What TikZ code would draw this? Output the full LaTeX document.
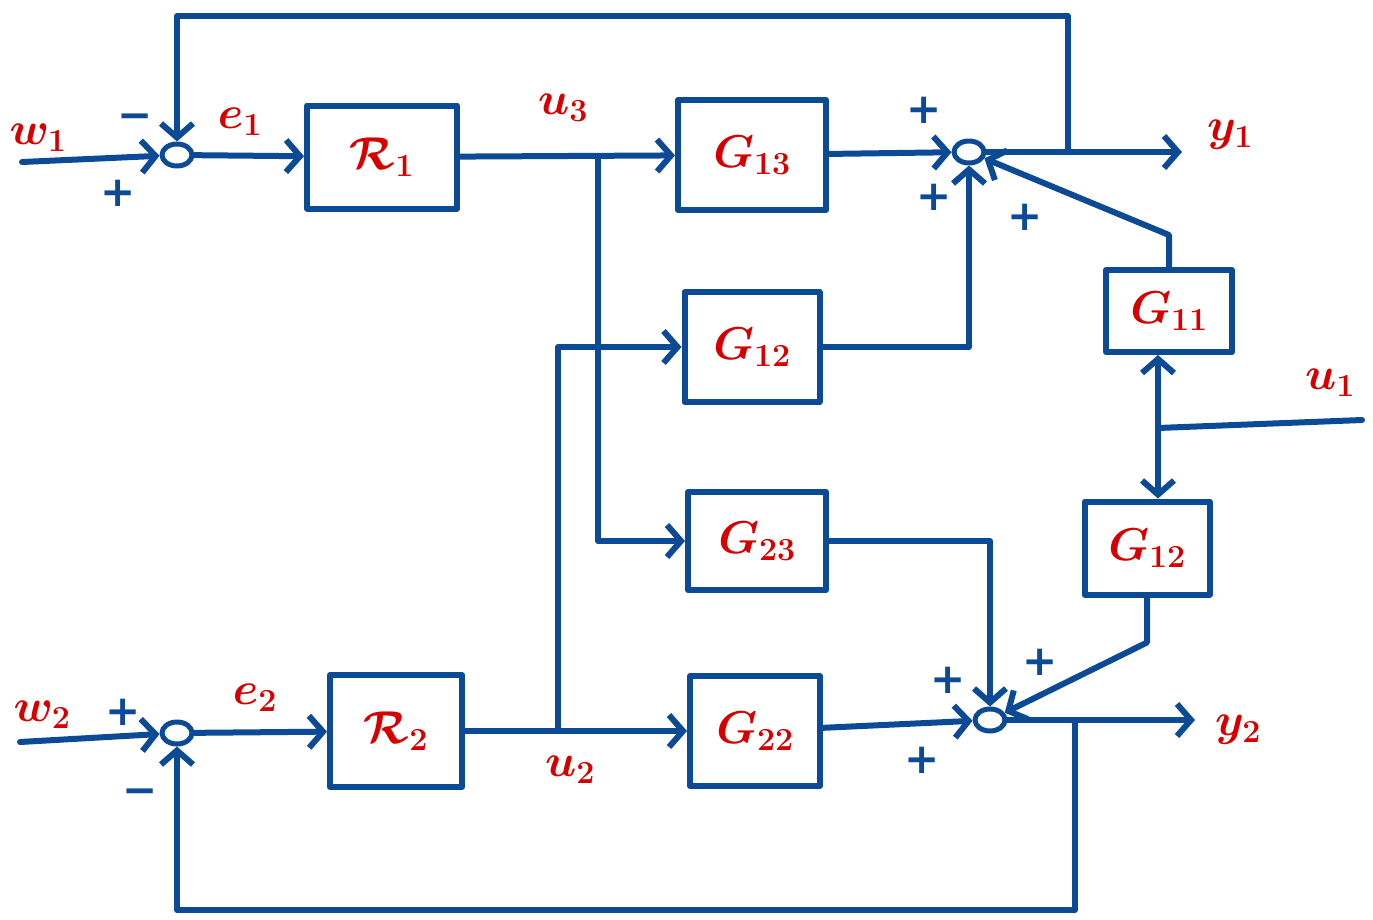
\RequirePackage{fix-cm}
\documentclass[tikz,border=0pt]{standalone}
\usepackage[no-math]{fontspec}
\newfontfamily\signfont{DejaVu Sans}
\usetikzlibrary{arrows.meta,shapes.geometric}
\definecolor{ink}{RGB}{12,74,150}
\definecolor{lbl}{RGB}{214,0,0}
\begin{document}
\begin{tikzpicture}[x=1pt,y=-1pt,line width=6pt,line cap=round,line join=round,draw=ink,
  blk/.style={draw,rectangle,minimum width=#1},
  sum/.style={draw,ellipse,line width=5pt,minimum width=30pt,minimum height=22pt,inner sep=0pt},
  arr/.style={-{Straight Barb[length=14pt,width=32pt,line width=6pt]}},
  lab/.style={text=lbl,font=\fontsize{46}{50}\selectfont\boldmath},
  sgn/.style={text=ink,font=\fontsize{42}{46}\signfont\bfseries,inner sep=0pt}]
\useasboundingbox (0,0) rectangle (1373,919);

% blocks
\node[blk=150pt,minimum height=103pt] (R1) at (382,157) {};
\node[blk=148pt,minimum height=110pt] (G13) at (752,155) {};
\node[blk=135pt,minimum height=110pt] (G12m) at (752,347) {};
\node[blk=138pt,minimum height=98pt] (G23) at (757,541) {};
\node[blk=132pt,minimum height=112pt] (R2) at (396,731) {};
\node[blk=130pt,minimum height=110pt] (G22) at (755,731) {};
\node[blk=126pt,minimum height=82pt] (G11) at (1169,311) {};
\node[blk=125pt,minimum height=93pt] (G12r) at (1147,548) {};

% block labels
\node[lab] at (R1) {$\mathcal{R}_1$};
\node[lab] at (G13) {$G_{13}$};
\node[lab] at (G12m) {$G_{12}$};
\node[lab] at (G23) {$G_{23}$};
\node[lab] at (R2) {$\mathcal{R}_2$};
\node[lab] at (G22) {$G_{22}$};
\node[lab] at (G11) {$G_{11}$};
\node[lab] at (G12r) {$G_{12}$};

% summing junctions
\node[sum] (S1) at (177,155) {};
\node[sum] (S2) at (177,733) {};
\node[sum] (S3) at (969,152) {};
\node[sum] (S4) at (990,720) {};

% free ends and branch points
\coordinate (w1in) at (22,162);
\coordinate (w2in) at (20,742);
\coordinate (y1out) at (1182,152);
\coordinate (y2out) at (1195,720);
\coordinate (u1in) at (1362,420);
\coordinate (u1j) at (1158,428);
\coordinate (b3) at (598,156);
\coordinate (b2) at (558,731);
\coordinate (fb1) at (1068,152);
\coordinate (fb2) at (1075,720);
\coordinate (top) at (0,16);
\coordinate (bot) at (0,910);

% upper loop
\draw[arr] (w1in) -- (S1);
\draw[arr] (S1) -- (R1);
\draw[arr] (R1) -- (G13);
\draw[arr] (b3) |- (G23.west);
\draw[arr] (G13) -- (S3);
\draw[arr] (S3) -- (y1out);
\draw[arr] (fb1) -- (fb1 |- top) -- (S1 |- top) -- (S1);
\draw[arr] (G12m.east) -| (S3.south);
\draw[arr] (G11.north) -- ++(0,-32) -- (S3);

% disturbance input
\draw (u1in) -- (u1j);
\draw[arr] (u1j) -- (u1j |- G11.south);
\draw[arr] (u1j) -- (u1j |- G12r.north);

% lower loop
\draw[arr] (w2in) -- (S2);
\draw[arr] (S2) -- (R2);
\draw[arr] (R2) -- (G22);
\draw[arr] (b2) |- (G12m.west);
\draw[arr] (G22) -- (S4);
\draw[arr] (G23.east) -| (S4.north);
\draw[arr] (G12r.south) -- ++(0,45) -- (S4);
\draw[arr] (S4) -- (y2out);
\draw[arr] (fb2) -- (fb2 |- bot) -- (S2 |- bot) -- (S2);

% signal labels
\node[lab] (lw1) at (38,138) {$w_1$};
\node[lab] (le1) at (240,122) {$e_1$};
\node[lab] (lu3) at (563,108) {$u_3$};
\node[lab] (ly1) at (1230,135) {$y_1$};
\node[lab] (lu1) at (1330,383) {$u_1$};
\node[lab] (lw2) at (42,715) {$w_2$};
\node[lab] (le2) at (255,698) {$e_2$};
\node[lab] (lu2) at (570,770) {$u_2$};
\node[lab] (ly2) at (1238,730) {$y_2$};

% signs
\node[sgn] at (135,122) {−};
\node[sgn] at (118,193) {+};
\node[sgn] at (924,110) {+};
\node[sgn] at (934,197) {+};
\node[sgn] at (1025,217) {+};
\node[sgn] at (948,680) {+};
\node[sgn] at (1040,662) {+};
\node[sgn] at (922,760) {+};
\node[sgn] at (123,712) {+};
\node[sgn] at (140,797) {−};
\end{tikzpicture}
\end{document}
